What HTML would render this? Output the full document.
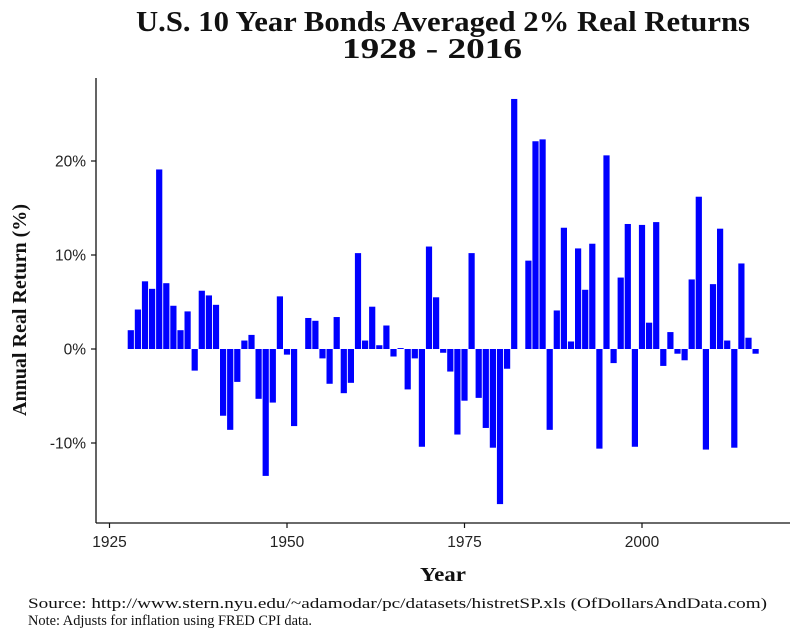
<!DOCTYPE html>
<html><head><meta charset="utf-8"><style>
body{margin:0;background:#fff;width:800px;height:640px;overflow:hidden}
svg{display:block}
.serif{font-family:"Liberation Serif",serif}
.sans{font-family:"Liberation Sans",sans-serif}
</style></head><body>
<svg id="chart" width="800" height="640" xmlns="http://www.w3.org/2000/svg">
<text class="serif" x="136" y="31" textLength="614" lengthAdjust="spacingAndGlyphs" font-size="28" font-weight="bold" fill="#111">U.S. 10 Year Bonds Averaged 2% Real Returns</text>
<text class="serif" x="342" y="58" textLength="180" lengthAdjust="spacingAndGlyphs" font-size="28" font-weight="bold" fill="#111">1928 - 2016</text>
<g id="bars"></g>
<g id="axes"></g>
<text class="serif" x="420" y="581" textLength="46" lengthAdjust="spacingAndGlyphs" font-size="20" font-weight="bold" fill="#111">Year</text>
<text class="serif" transform="translate(26,310) rotate(-90)" text-anchor="middle" textLength="212" lengthAdjust="spacingAndGlyphs" font-size="20" font-weight="bold" fill="#111">Annual Real Return (%)</text>
<text class="serif" x="28" y="608" textLength="739" lengthAdjust="spacingAndGlyphs" font-size="15" fill="#111">Source:  http://www.stern.nyu.edu/~adamodar/pc/datasets/histretSP.xls (OfDollarsAndData.com)</text>
<text class="serif" x="28" y="625" textLength="284" lengthAdjust="spacingAndGlyphs" font-size="15" fill="#111">Note:  Adjusts for inflation using FRED CPI data.</text>
</svg>
<script>
const startYear = 1928;
const returns = [2.0,4.2,7.2,6.4,19.1,7.0,4.6,2.0,4.0,-2.3,
6.2,5.7,4.7,-7.1,-8.6,-3.5,0.9,1.5,-5.3,-13.5,
-5.7,5.6,-0.6,-8.2,0.0,3.3,3.0,-1.0,-3.7,3.4,
-4.7,-3.6,10.2,0.9,4.5,0.4,2.5,-0.8,0.1,-4.3,
-1.0,-10.4,10.9,5.5,-0.4,-2.4,-9.1,-5.5,10.2,-5.2,
-8.4,-10.5,-16.5,-2.1,26.6,0.0,9.4,22.1,22.3,-8.6,
4.1,12.9,0.8,10.7,6.3,11.2,-10.6,20.6,-1.5,7.6,
13.3,-10.4,13.2,2.8,13.5,-1.8,1.8,-0.5,-1.2,7.4,
16.2,-10.7,6.9,12.8,0.9,-10.5,9.1,1.2,-0.5];
const xTicks = [1925,1950,1975,2000];
const yTicks = [-10,0,10,20];
const yTickLabels = ["-10%","0%","10%","20%"];

const NS="http://www.w3.org/2000/svg";
const x = y => 109.5 + (y-1925)*7.1;
const yS = v => 349 - v*9.4;
function mk(tag, attrs, parent){const e=document.createElementNS(NS,tag);for(const k in attrs)e.setAttribute(k,attrs[k]);parent.appendChild(e);return e;}
const bars=document.getElementById('bars'), axes=document.getElementById('axes');
returns.forEach((v,i)=>{
  const yr=startYear+i, cx=x(yr);
  const top=Math.min(yS(v),yS(0)), h=Math.abs(yS(v)-yS(0));
  const r=mk('rect',{x:cx-3.1,y:top,width:6.2,height:Math.max(h,0),fill:'#0000ff'},bars);
  
  
});
const ya=mk('line',{x1:96,y1:78,x2:96,y2:523,stroke:'#111','stroke-width':1.3},axes);


const xa=mk('line',{x1:96,y1:523,x2:790,y2:523,stroke:'#111','stroke-width':1.3},axes);


yTicks.forEach((t,i)=>{
  mk('line',{x1:91,y1:yS(t),x2:96,y2:yS(t),stroke:'#111','stroke-width':1.2},axes);
  const l=mk('text',{x:86,y:yS(t)+5.5,'text-anchor':'end','font-size':15.5,fill:'#222',class:'sans'},axes);
  l.textContent=yTickLabels[i];
  
  
});
xTicks.forEach(t=>{
  mk('line',{x1:x(t),y1:523,x2:x(t),y2:528,stroke:'#111','stroke-width':1.2},axes);
  const l=mk('text',{x:x(t),y:547,'text-anchor':'middle','font-size':15.5,fill:'#222',class:'sans'},axes);
  l.textContent=t;
  
  
});
</script>
</body></html>
